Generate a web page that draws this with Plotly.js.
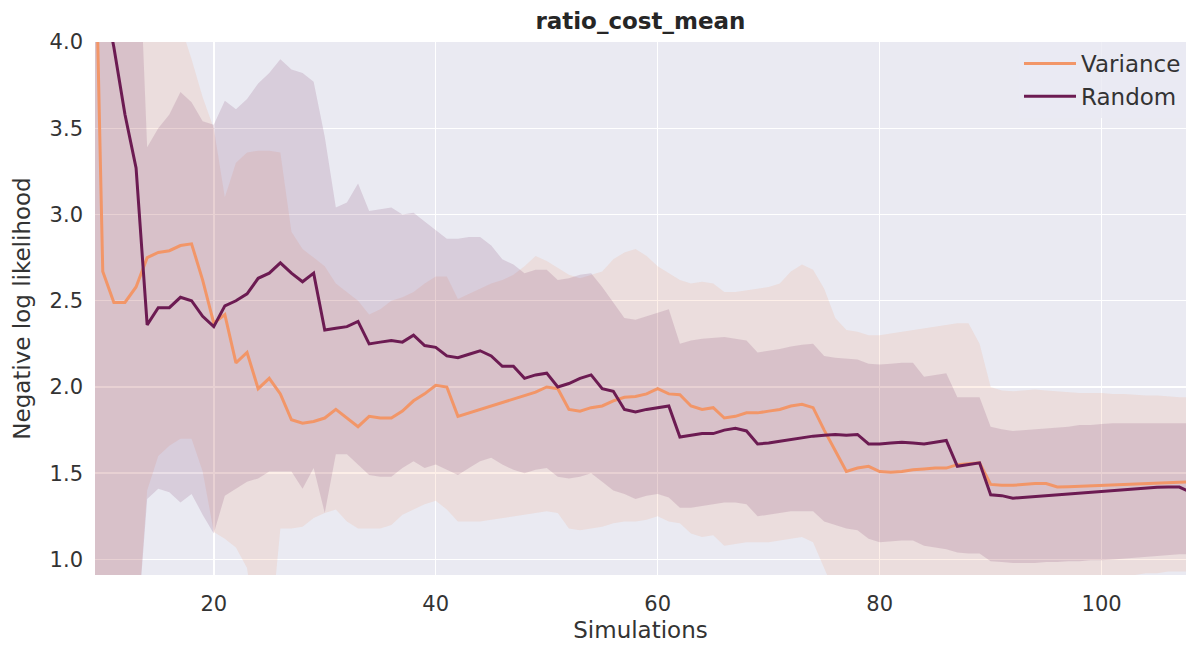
<!DOCTYPE html>
<html><head><meta charset="utf-8">
<script src="https://cdn.plot.ly/plotly-3.0.1.min.js"></script>
<style>html,body{margin:0;padding:0;background:#fff}#chart{width:1186px;height:646px}</style>
</head><body><div id="chart"></div>
<script>
const simulations = [9,10,11,12,13,14,15,16,17,18,19,20,21,22,23,24,25,26,27,28,29,30,31,32,33,34,35,36,37,38,39,40,41,42,43,44,45,46,47,48,49,50,51,52,53,54,55,56,57,58,59,60,61,62,63,64,65,66,67,68,69,70,71,72,73,74,75,76,77,78,79,80,81,82,83,84,85,86,87,88,89,90,91,92,93,94,95,96,97,98,99,100,101,102,103,104,105,106,107,108];

const varianceMean = [5.6,2.67,2.49,2.49,2.58,2.75,2.78,2.79,2.82,2.83,2.62,2.37,2.42,2.14,2.20,1.99,2.05,1.96,1.81,1.79,1.80,1.82,1.87,1.82,1.77,1.83,1.82,1.82,1.86,1.92,1.96,2.01,2.00,1.83,1.85,1.87,1.89,1.91,1.93,1.95,1.97,2.00,1.99,1.87,1.86,1.88,1.89,1.92,1.94,1.945,1.96,1.99,1.96,1.955,1.89,1.87,1.88,1.82,1.83,1.85,1.85,1.86,1.87,1.89,1.90,1.88,1.75,1.63,1.51,1.53,1.54,1.51,1.505,1.51,1.52,1.525,1.53,1.53,1.55,1.555,1.56,1.435,1.43,1.43,1.435,1.44,1.44,1.42,1.422,1.425,1.428,1.43,1.432,1.434,1.436,1.44,1.442,1.445,1.448,1.45];

const varianceLower = [0.5,0.5,0.5,0.5,0.5,1.40,1.60,1.66,1.70,1.70,1.51,1.16,1.12,1.07,0.95,0.5,0.5,1.18,1.18,1.19,1.24,1.27,1.29,1.22,1.18,1.18,1.18,1.20,1.26,1.29,1.32,1.34,1.29,1.22,1.22,1.22,1.23,1.24,1.25,1.26,1.27,1.28,1.27,1.18,1.17,1.18,1.19,1.21,1.22,1.22,1.23,1.25,1.22,1.21,1.15,1.13,1.14,1.08,1.09,1.10,1.10,1.10,1.11,1.12,1.13,1.10,0.95,0.80,0.72,0.72,0.72,0.72,0.72,0.72,0.72,0.72,0.72,0.72,0.72,0.72,0.72,0.88,0.88,0.88,0.88,0.88,0.88,0.88,0.89,0.89,0.89,0.90,0.90,0.91,0.91,0.92,0.92,0.93,0.93,0.93];

const varianceUpper = [5.0,5.0,5.0,5.0,5.0,5.0,5.0,5.0,4.1,3.9,3.68,3.5,3.1,3.30,3.36,3.37,3.37,3.36,2.90,2.80,2.75,2.70,2.60,2.55,2.50,2.42,2.45,2.50,2.52,2.55,2.60,2.64,2.64,2.51,2.54,2.57,2.60,2.62,2.65,2.70,2.76,2.73,2.69,2.65,2.63,2.65,2.67,2.74,2.78,2.80,2.76,2.70,2.66,2.62,2.60,2.61,2.60,2.55,2.55,2.56,2.57,2.58,2.60,2.67,2.71,2.68,2.57,2.40,2.33,2.32,2.30,2.30,2.31,2.32,2.33,2.34,2.35,2.36,2.37,2.37,2.25,2.00,1.98,1.975,1.98,1.985,1.98,1.975,1.97,1.965,1.965,1.965,1.96,1.96,1.955,1.95,1.95,1.945,1.94,1.94];

const randomMean = [5.0,4.3,3.97,3.58,3.27,2.36,2.46,2.46,2.52,2.50,2.41,2.35,2.47,2.50,2.54,2.63,2.66,2.72,2.66,2.61,2.66,2.33,2.34,2.35,2.38,2.25,2.26,2.27,2.26,2.30,2.24,2.23,2.18,2.17,2.19,2.21,2.18,2.12,2.12,2.05,2.07,2.08,2.00,2.02,2.05,2.07,1.99,1.975,1.87,1.855,1.87,1.88,1.89,1.71,1.72,1.73,1.73,1.75,1.76,1.745,1.67,1.675,1.685,1.695,1.705,1.715,1.72,1.725,1.72,1.725,1.67,1.67,1.675,1.68,1.675,1.67,1.68,1.69,1.54,1.55,1.56,1.375,1.37,1.355,1.36,1.365,1.37,1.375,1.38,1.385,1.39,1.395,1.40,1.405,1.41,1.415,1.418,1.42,1.42,1.39];

const randomLower = [0.5,0.5,0.5,0.5,0.5,1.35,1.41,1.39,1.33,1.38,1.26,1.15,1.37,1.41,1.45,1.47,1.51,1.51,1.51,1.41,1.53,1.27,1.61,1.61,1.55,1.49,1.48,1.48,1.53,1.57,1.53,1.55,1.52,1.49,1.53,1.57,1.59,1.55,1.52,1.50,1.52,1.53,1.48,1.47,1.48,1.50,1.45,1.40,1.38,1.35,1.37,1.38,1.36,1.30,1.30,1.31,1.32,1.33,1.33,1.32,1.25,1.26,1.27,1.28,1.28,1.28,1.22,1.20,1.18,1.17,1.12,1.10,1.105,1.11,1.11,1.08,1.07,1.06,1.04,1.035,1.035,0.99,0.985,0.98,0.98,0.98,0.985,0.985,0.99,0.99,0.995,0.995,1.0,1.005,1.01,1.015,1.02,1.025,1.03,1.03];

const randomUpper = [5.0,5.0,5.0,5.0,5.0,3.39,3.50,3.58,3.71,3.65,3.54,3.52,3.66,3.61,3.67,3.76,3.82,3.90,3.84,3.82,3.77,3.45,3.04,3.07,3.18,3.02,3.03,3.04,3.00,3.01,2.96,2.91,2.86,2.86,2.87,2.87,2.82,2.74,2.71,2.66,2.68,2.68,2.62,2.63,2.65,2.66,2.58,2.49,2.40,2.39,2.41,2.43,2.45,2.25,2.27,2.28,2.285,2.29,2.28,2.27,2.20,2.21,2.22,2.235,2.245,2.25,2.18,2.17,2.165,2.16,2.135,2.13,2.135,2.14,2.14,2.06,2.07,2.08,1.94,1.94,1.94,1.77,1.755,1.745,1.75,1.755,1.76,1.765,1.77,1.78,1.78,1.785,1.79,1.79,1.79,1.79,1.79,1.79,1.79,1.79];

const seriesNames = ['Variance', 'Random'];
const yTicks = [1.0, 1.5, 2.0, 2.5, 3.0, 3.5, 4.0];
const xTicks = [20, 40, 60, 80, 100];

const ORANGE = 'rgb(242,150,104)';
const PURPLE = 'rgb(108,27,82)';
const ORANGE_FILL = 'rgba(242,150,104,0.15)';
const PURPLE_FILL = 'rgba(108,27,82,0.14)';
const FONT = 'DejaVu Sans, sans-serif';

function band(lower, upper, fillColor) {
  return [
    {x: simulations, y: lower, type: 'scatter', mode: 'lines', line: {width: 0, color: fillColor},
     showlegend: false, hoverinfo: 'skip'},
    {x: simulations, y: upper, type: 'scatter', mode: 'lines', line: {width: 0, color: fillColor},
     fill: 'tonexty', fillcolor: fillColor, showlegend: false, hoverinfo: 'skip'}
  ];
}
function meanLine(name, mean, color) {
  return {x: simulations, y: mean, type: 'scatter', mode: 'lines', name: name, legendgroup: name,
          line: {color: color, width: 3}, showlegend: true, hoverinfo: 'skip'};
}

const data = [
  ...band(varianceLower, varianceUpper, ORANGE_FILL),
  ...band(randomLower, randomUpper, PURPLE_FILL),
  meanLine(seriesNames[0], varianceMean, ORANGE),
  meanLine(seriesNames[1], randomMean, PURPLE)
];

const layout = {
  width: 1186, height: 646,
  margin: {l: 95, r: 0, t: 42, b: 71},
  paper_bgcolor: '#ffffff',
  plot_bgcolor: '#eaeaf2',
  font: {family: FONT, color: '#262626'},
  title: {text: '<b>ratio_cost_mean</b>', font: {family: FONT, size: 23, color: '#262626'},
          x: 0.54, xanchor: 'center', y: 0.968, yanchor: 'middle', yref: 'container'},
  xaxis: {range: [9.3, 107.6], tickvals: xTicks, ticktext: xTicks.map(String),
          showgrid: true, gridcolor: '#ffffff', gridwidth: 1.5, zeroline: false, showline: false,
          ticks: '', ticklabelstandoff: 14, tickfont: {family: FONT, size: 21, color: '#333333'},
          title: {text: 'Simulations', font: {family: FONT, size: 23, color: '#333333'}, standoff: 6}},
  yaxis: {range: [0.91, 4.0], tickvals: yTicks, ticktext: yTicks.map(v => v.toFixed(1)),
          showgrid: true, gridcolor: '#ffffff', gridwidth: 1.5, zeroline: false, showline: false,
          ticks: '', ticklabelstandoff: 11, tickfont: {family: FONT, size: 21, color: '#333333'},
          title: {text: 'Negative log likelihood', font: {family: FONT, size: 23, color: '#333333'}, standoff: 12}},
  legend: {x: 1, xanchor: 'right', y: 1, yanchor: 'top', bgcolor: 'rgba(234,234,242,0.8)',
           borderwidth: 0, font: {family: FONT, size: 23, color: '#333333'},
           traceorder: 'normal', tracegroupgap: 4, itemwidth: 52},
  showlegend: true
};

Plotly.newPlot('chart', data, layout, {displayModeBar: false, staticPlot: true});
</script>
</body></html>
